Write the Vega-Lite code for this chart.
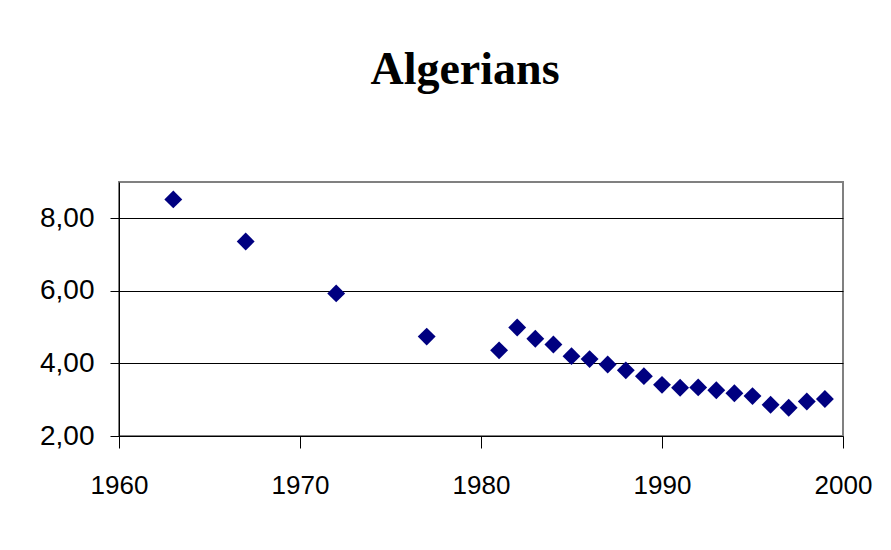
{
  "$schema": "https://vega.github.io/schema/vega-lite/v6.json",
  "autosize": {"type": "none"},
  "width": 724,
  "height": 254,
  "padding": {"left": 119, "top": 182, "right": 48, "bottom": 114},
  "background": "white",
  "title": {
    "text": "Algerians",
    "font": "Liberation Serif",
    "fontSize": 46,
    "fontWeight": "bold",
    "color": "black",
    "anchor": "middle",
    "frame": "group",
    "baseline": "alphabetic",
    "offset": 52,
    "dx": -16
  },
  "config": {
    "view": {"stroke": "#808080", "strokeWidth": 2},
    "axis": {
      "labelFont": "Liberation Sans",
      "labelColor": "black",
      "tickColor": "black",
      "domainColor": "black",
      "gridColor": "black",
      "gridOpacity": 1,
      "gridWidth": 1
    }
  },
  "data": {
    "values": [
      {"year": 1963, "value": 8.52},
      {"year": 1967, "value": 7.36},
      {"year": 1972, "value": 5.93},
      {"year": 1977, "value": 4.74},
      {"year": 1981, "value": 4.36},
      {"year": 1982, "value": 4.99},
      {"year": 1983, "value": 4.68},
      {"year": 1984, "value": 4.52},
      {"year": 1985, "value": 4.20},
      {"year": 1986, "value": 4.12},
      {"year": 1987, "value": 3.97},
      {"year": 1988, "value": 3.81},
      {"year": 1989, "value": 3.65},
      {"year": 1990, "value": 3.41},
      {"year": 1991, "value": 3.33},
      {"year": 1992, "value": 3.34},
      {"year": 1993, "value": 3.26},
      {"year": 1994, "value": 3.18},
      {"year": 1995, "value": 3.10},
      {"year": 1996, "value": 2.86},
      {"year": 1997, "value": 2.78},
      {"year": 1998, "value": 2.95},
      {"year": 1999, "value": 3.02}
    ]
  },
  "mark": {"type": "point", "shape": "diamond", "filled": true, "size": 320, "color": "#000080", "opacity": 1},
  "encoding": {
    "x": {
      "field": "year",
      "type": "quantitative",
      "scale": {"domain": [1960, 2000], "nice": false, "zero": false},
      "axis": {
        "title": null,
        "values": [1960, 1970, 1980, 1990, 2000],
        "format": "d",
        "grid": false,
        "domain": false,
        "tickSize": 12,
        "labelFontSize": 26,
        "labelPadding": 24,
        "labelFlush": false
      }
    },
    "y": {
      "field": "value",
      "type": "quantitative",
      "scale": {"domain": [2, 9], "nice": false, "zero": false},
      "axis": {
        "title": null,
        "values": [2, 4, 6, 8],
        "labelExpr": "replace(format(datum.value, '.2f'), '.', ',')",
        "grid": true,
        "tickSize": 9,
        "labelFontSize": 28,
        "labelPadding": 16,
        "labelFlush": false
      }
    }
  }
}
